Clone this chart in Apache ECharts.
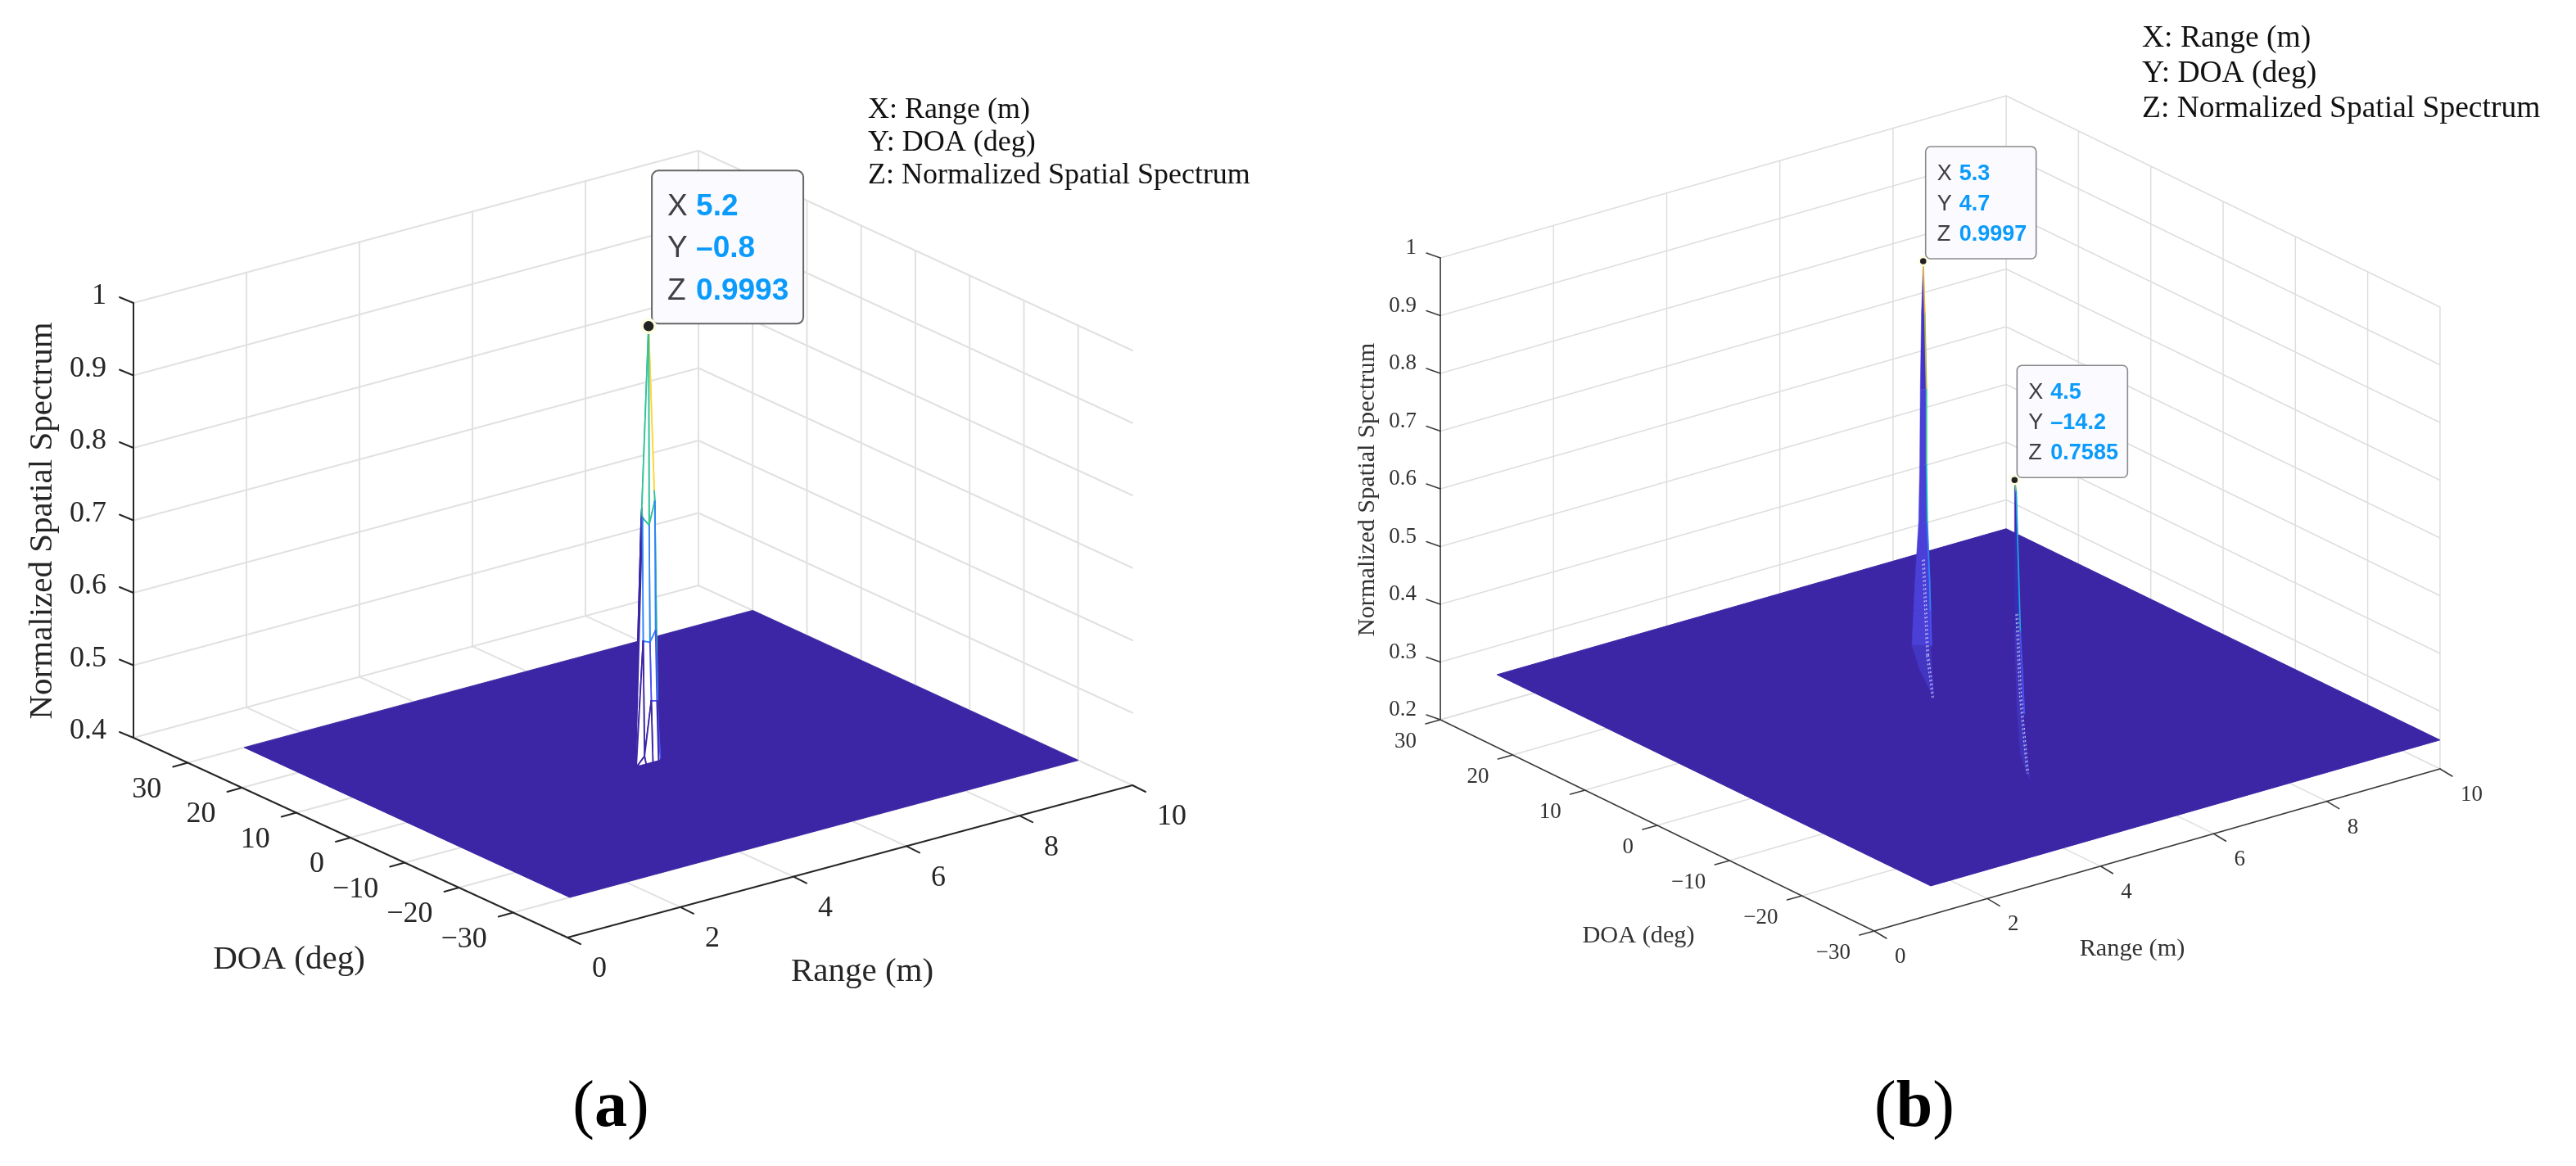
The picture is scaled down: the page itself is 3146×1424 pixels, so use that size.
<!DOCTYPE html>
<html><head><meta charset="utf-8">
<style>html,body{margin:0;padding:0;background:#fff}#c{width:3146px;height:1424px}</style>
<script src="https://cdn.jsdelivr.net/npm/echarts@6/dist/echarts.min.js"></script>
</head><body><div id="c"></div>
<script>
// ---------- DATA ----------
const rangeTicks = [0, 2, 4, 6, 8, 10];
const doaTicksA = [-30, -20, -10, 0, 10, 20, 30];
const doaTicksB = [-30, -20, -10, 0, 10, 20, 30];
const zTicksA = [0.4, 0.5, 0.6, 0.7, 0.8, 0.9, 1];
const zTicksB = [0.2, 0.3, 0.4, 0.5, 0.6, 0.7, 0.8, 0.9, 1];
const surfaceRange = [1, 10];
const surfaceDoa = [-30, 30];
const floorZA = 0.4;
const floorZB = 0.25;

// Panel (a): the coarse mesh around the peak
const meshARange = [4.96, 5.08, 5.2, 5.3, 5.36];
const meshADoa = [-1.6, -1.3, -1.05, -0.9, -0.8, -0.7, -0.55, -0.3, 0];
const meshAZ = [
  [0.4, 0.4, 0.4, 0.4, 0.4],
  [0.4, 0.41, 0.484, 0.482, 0.4],
  [0.4, 0.568, 0.564, 0.578, 0.4],
  [0.4, 0.738, 0.725, 0.756, 0.4],
  [0.4, 0.75, 0.9993, 0.77, 0.4],
  [0.4, 0.738, 0.72, 0.74, 0.4],
  [0.4, 0.56, 0.55, 0.56, 0.4],
  [0.4, 0.41, 0.48, 0.47, 0.4],
  [0.4, 0.4, 0.4, 0.4, 0.4]
];

// Panel (b): spike outlines
const spike1LeftZ = [0.9997, 0.91, 0.78, 0.65, 0.55, 0.45, 0.40, 0.34, 0.30, 0.26];
const spike1LeftR = [5.3, 5.27, 5.25, 5.24, 5.22, 5.155, 5.13, 5.10, 5.17, 5.28];
const spike1LeftD = [4.7, 4.7, 4.7, 4.7, 4.7, 4.7, 4.7, 4.7, 4.2, 3.4];
const spike1RightZ = [0.9997, 0.91, 0.78, 0.65, 0.55, 0.45, 0.40, 0.34, 0.29, 0.25];
const spike1RightD = [4.7, 4.47, 4.25, 4.25, 4.13, 3.8, 3.7, 3.57, 3.3, 3.1];
const spike1SpeckD = [4.55, 4.3, 3.97, 3.2];
const spike1SpeckZ = [0.484, 0.415, 0.322, 0.252];
const spike2LeftZ = [0.7585, 0.74, 0.5, 0.36, 0.29, 0.26];
const spike2LeftD = [-14.2, -14.2, -14.2, -14.55, -15.0, -15.9];
const spike2RightZ = [0.7585, 0.74, 0.5, 0.36, 0.29, 0.25];
const spike2RightD = [-14.2, -14.43, -15.0, -15.56, -16.1, -16.5];
const spike2SpeckD = [-14.4, -14.9, -15.9];
const spike2SpeckZ = [0.527, 0.389, 0.26];

const tipsA = [{ x: 5.2, y: -0.8, z: 0.9993, zText: '0.9993' }];
const tipsB = [{ x: 5.3, y: 4.7, z: 0.9997, zText: '0.9997' }, { x: 4.5, y: -14.2, z: 0.7585, zText: '0.7585' }];
const legendLines = ['X: Range (m)', 'Y: DOA (deg)', 'Z: Normalized Spatial Spectrum'];
const zTitle = 'Normalized Spatial Spectrum';
const doaTitle = 'DOA (deg)';
const rangeTitle = 'Range (m)';

// ---------- VIEW / STYLE ----------
const SERIF = '"Liberation Serif"', SANS = '"Liberation Sans"';
const viewA = {
  o: [428, 1023], perR: [69, -18.6], perD: [-6.625, -3.05], perZ: -885, zMin: 0.4, zMax: 1,
  rLim: [0, 10], dLim: [-40, 40], floorZ: floorZA, zTicks: zTicksA, doaTicks: doaTicksA,
  grid: { c: '#e1e1e1', w: 2 }, axis: { c: '#262626', w: 2 }, fs: 36, tc: '#262626',
  zTick: [-17, -7], dTick: [-18, 5], rTick: [16, 8],
  zLab: [-33, -8], dLab: [-32, 33], rLab: [30, 39],
  zT: [52, 636], dT: [353, 1172], rT: [1053, 1187], titleFs: 41,
  wallV: rangeTicks.slice(1, 5), wallD: doaTicksA, decimals: 1
};
const viewB = {
  o: [2024, 1008], perR: [69.1, -19.8], perD: [-8.83, -4.3], perZ: -705, zMin: 0.2, zMax: 1,
  rLim: [0, 10], dLim: [-30, 30], floorZ: floorZB, zTicks: zTicksB, doaTicks: doaTicksB,
  grid: { c: '#dedede', w: 1.5 }, axis: { c: '#3a3a3a', w: 1.6 }, fs: 27, tc: '#333333',
  zTick: [-17, -6], dTick: [-18, 5], rTick: [15, 9],
  zLab: [-29, -12], dLab: [-29, 27], rLab: [25, 32],
  zT: [1670, 598], dT: [2001, 1143], rT: [2604, 1159], titleFs: 30.3,
  wallV: rangeTicks.slice(1, 5), wallD: doaTicksB, decimals: 1
};
const FLOOR = '#3c26a6';
const parulaStops = ['#3e26a8', '#4752f4', '#2d87f7', '#1aa4dc', '#12b9bd', '#33c29a', '#6dc46e', '#b0bd4a', '#ecbb3a', '#fdd736', '#f9fb15'];
function parula(v) {
  const i = Math.max(0, Math.min(10, Math.floor(v * 10)));
  return parulaStops[i];
}
function scr(view, r, d, z) {
  return [view.o[0] + view.perR[0] * r + view.perD[0] * d,
          view.o[1] + view.perR[1] * r + view.perD[1] * d + view.perZ * (z - view.zMin)];
}
function P(api, view, r, d, z) { return api.coord(scr(view, r, d, z)); }
function ln(a, b, c, w, extra) {
  return { type: 'line', shape: { x1: a[0], y1: a[1], x2: b[0], y2: b[1] }, style: Object.assign({ stroke: c, lineWidth: w, lineCap: 'round' }, extra || {}) };
}
function txt(p, s, font, fill, align, rot) {
  return { type: 'text', x: p[0], y: p[1], rotation: rot || 0,
    style: { text: s, x: 0, y: 0, font: font, fill: fill, align: align || 'center', verticalAlign: 'middle' } };
}
function layer(items, draw) {
  return { type: 'custom', coordinateSystem: 'cartesian2d', silent: true, animation: false, clip: false,
    progressive: 0, data: items.map((_, i) => [i, 0]),
    renderItem: (p, api) => draw(items[p.dataIndex], api) };
}

function gridItems(v) {
  const out = [];
  const [r0, r1] = v.rLim, [d0, d1] = v.dLim;
  v.zTicks.forEach(z => {
    out.push([r0, d1, z, r1, d1, z]);
    out.push([r1, d1, z, r1, d0, z]);
  });
  v.wallV.forEach(r => out.push([r, d1, v.zMin, r, d1, v.zMax]));
  out.push([r1, d1, v.zMin, r1, d1, v.zMax]);
  v.wallD.forEach(d => { if (d < d1) out.push([r1, d, v.zMin, r1, d, v.zMax]); });
  v.wallV.forEach(r => out.push([r, d0, v.zMin, r, d1, v.zMin]));
  v.wallD.forEach(d => out.push([r0, d, v.zMin, r1, d, v.zMin]));
  return out;
}
function axisItems(v) {
  const out = [];
  const [r0, r1] = v.rLim, [d0, d1] = v.dLim;
  out.push({ s: [r0, d1, v.zMin], e: [r0, d1, v.zMax] });
  out.push({ s: [r0, d1, v.zMin], e: [r0, d0, v.zMin] });
  out.push({ s: [r0, d0, v.zMin], e: [r1, d0, v.zMin] });
  v.zTicks.forEach(z => out.push({ s: [r0, d1, z], off: v.zTick }));
  v.doaTicks.forEach(d => out.push({ s: [r0, d, v.zMin], off: v.dTick }));
  rangeTicks.forEach(r => out.push({ s: [r, d0, v.zMin], off: v.rTick }));
  return out;
}
function labelItems(v) {
  const out = [];
  const [r0] = v.rLim, [d0, d1] = v.dLim;
  v.zTicks.forEach(z => out.push({ at: [r0, d1, z], off: v.zLab, s: z === 1 ? '1' : z.toFixed(v.decimals), a: 'right' }));
  v.doaTicks.forEach(d => out.push({ at: [r0, d, v.zMin], off: v.dLab, s: String(d).replace('-', '\u2212'), a: 'right' }));
  rangeTicks.forEach(r => out.push({ at: [r, d0, v.zMin], off: v.rLab, s: String(r), a: 'left' }));
  return out;
}
function panelBase(v) {
  const font = v.fs + 'px ' + SERIF, tfont = v.titleFs + 'px ' + SERIF;
  return [
    layer(gridItems(v), (g, api) => ln(P(api, v, g[0], g[1], g[2]), P(api, v, g[3], g[4], g[5]), v.grid.c, v.grid.w)),
    layer(axisItems(v), (a, api) => {
      const s = P(api, v, a.s[0], a.s[1], a.s[2]);
      const e = a.e ? P(api, v, a.e[0], a.e[1], a.e[2]) : [s[0] + a.off[0], s[1] + a.off[1]];
      return ln(s, e, v.axis.c, v.axis.w);
    }),
    layer(labelItems(v), (l, api) => {
      const s = P(api, v, l.at[0], l.at[1], l.at[2]);
      return txt([s[0] + l.off[0], s[1] + l.off[1]], l.s, font, v.tc, l.a);
    }),
    layer([
      { p: v.zT, s: zTitle, rot: Math.PI / 2 }, { p: v.dT, s: doaTitle }, { p: v.rT, s: rangeTitle }
    ], (t, api) => txt(api.coord(t.p), t.s, tfont, v.tc, 'center', t.rot)),
    layer([0], (_, api) => ({
      type: 'polygon',
      shape: { points: [
        P(api, v, surfaceRange[0], surfaceDoa[0], v.floorZ), P(api, v, surfaceRange[1], surfaceDoa[0], v.floorZ),
        P(api, v, surfaceRange[1], surfaceDoa[1], v.floorZ), P(api, v, surfaceRange[0], surfaceDoa[1], v.floorZ)] },
      style: { fill: FLOOR, stroke: FLOOR, lineWidth: 1 }
    }))
  ];
}
// Panel (a) mesh: white faces, flat edge colours, painted back to front
function cellsA() {
  const out = [];
  for (let j = meshADoa.length - 2; j >= 0; j--)
    for (let i = meshARange.length - 2; i >= 0; i--) out.push([i, j]);
  return out;
}
function colA(z) { return z <= floorZA + 0.001 ? FLOOR : parula((z - floorZA) / (1 - floorZA)); }
function meshASeries() {
  const v = viewA;
  return layer(cellsA(), (c, api) => {
    const [i, j] = c;
    const n = (a, b) => P(api, v, meshARange[a], meshADoa[b], meshAZ[b][a]);
    const A = n(i, j), B = n(i + 1, j), C = n(i + 1, j + 1), D = n(i, j + 1);
    const flat = meshAZ[j][i] === floorZA && meshAZ[j][i + 1] === floorZA && meshAZ[j + 1][i] === floorZA && meshAZ[j + 1][i + 1] === floorZA;
    const kids = [{ type: 'polygon', shape: { points: [A, B, C, D] }, style: { fill: flat ? FLOOR : '#ffffff' } }];
    kids.push(ln(D, C, colA(meshAZ[j + 1][i]), 1.8));
    kids.push(ln(C, B, colA(meshAZ[j][i + 1]), 1.8));
    kids.push(ln(A, D, colA(meshAZ[j][i]), 1.8));
    kids.push(ln(A, B, colA(meshAZ[j][i]), 1.8));
    return { type: 'group', children: kids };
  });
}
// Panel (b) spikes
function colB(z) { return parula((z - floorZB) / (1 - floorZB)); }
function spikeSeries(left, right, speck, fills) {
  const v = viewB, items = [];
  for (let k = 0; k < left.length - 1; k++) items.push({ k });
  return [
    layer(items, (it, api) => {
      const k = it.k;
      const pts = [left[k], right[k], right[k + 1], left[k + 1]].map(n => P(api, v, n[0], n[1], n[2]));
      return { type: 'polygon', shape: { points: pts }, style: { fill: fills(left[k + 1][2]), stroke: fills(left[k + 1][2]), lineWidth: 0.5 } };
    }),
    layer(speck, (it, api) => ln(P(api, v, it[0][0], it[0][1], it[0][2]), P(api, v, it[1][0], it[1][1], it[1][2]), 'rgba(235,235,255,0.75)', 1.4, { lineDash: [2, 3], lineCap: 'butt' })),
    layer(items, (it, api) => {
      const k = it.k;
      const a = right[k], b = right[k + 1];
      const pa = P(api, v, a[0], a[1], a[2]), pb = P(api, v, b[0], b[1], b[2]);
      return ln(pa, pb, colB(b[2]), 1.8);
    })
  ];
}
const spike1L = spike1LeftZ.map((z, i) => [spike1LeftR[i], spike1LeftD[i], z]);
const spike1R = spike1RightZ.map((z, i) => [5.3, spike1RightD[i], z]);
const spike1S = [];
spike1SpeckD.forEach((d, i) => { if (i) {
  spike1S.push([[5.3, spike1SpeckD[i - 1], spike1SpeckZ[i - 1]], [5.3, d, spike1SpeckZ[i]]]);
  spike1S.push([[5.27, spike1SpeckD[i - 1], spike1SpeckZ[i - 1]], [5.27, d, spike1SpeckZ[i]]]);
} });
const spike2L = spike2LeftZ.map((z, i) => [4.5, spike2LeftD[i], z]);
const spike2R = spike2RightZ.map((z, i) => [4.5, spike2RightD[i], z]);
const spike2S = [];
spike2SpeckD.forEach((d, i) => { if (i) {
  spike2S.push([[4.5, spike2SpeckD[i - 1], spike2SpeckZ[i - 1]], [4.5, d, spike2SpeckZ[i]]]);
  spike2S.push([[4.53, spike2SpeckD[i - 1], spike2SpeckZ[i - 1]], [4.53, d, spike2SpeckZ[i]]]);
} });

// Data tips
function tipSeries(v, tips, cfg) {
  return layer(tips, (t, api) => {
    const p = P(api, v, t.x, t.y, t.z);
    const L = p[0] + cfg.dx, B = p[1] + cfg.dy, T = B - cfg.h;
    const kids = [
      { type: 'rect', shape: { x: L, y: T, width: cfg.w, height: cfg.h, r: cfg.r }, style: { fill: '#fafaff', stroke: cfg.bc, lineWidth: cfg.bw } },
      { type: 'circle', shape: { cx: p[0], cy: p[1], r: cfg.mr }, style: { fill: '#222222', stroke: '#fffde0', lineWidth: cfg.mb } }
    ];
    const rows = [['X', String(t.x)], ['Y', String(t.y).replace('-', '\u2013')], ['Z', t.zText]];
    rows.forEach((row, i) => {
      const y = T + cfg.rowY[i];
      kids.push(txt([L + cfg.kx, y], row[0], cfg.fs + 'px ' + SANS, '#404040', 'left'));
      kids.push(txt([L + cfg.vx, y], row[1], 'bold ' + cfg.fs + 'px ' + SANS, '#0a9bfb', 'left'));
    });
    return { type: 'group', children: kids };
  });
}

const series = [
  ...panelBase(viewA),
  meshASeries(),
  tipSeries(viewA, tipsA, { dx: 4, dy: -3, w: 185, h: 187, r: 8, bc: '#666666', bw: 2, mr: 8, mb: 3.5, fs: 37, kx: 19, vx: 54, rowY: [44, 95, 147] }),
  ...panelBase(viewB),
  ...spikeSeries(spike1L, spike1R, spike1S, z => z > 0.7 ? '#4433cc' : z > 0.33 ? '#4a3fd6' : '#4336c2'),
  ...spikeSeries(spike2L, spike2R, spike2S, z => z > 0.45 ? '#3a2ab8' : '#4033bc'),
  tipSeries(viewB, tipsB, { dx: 3, dy: -3, w: 135, h: 137, r: 6, bc: '#8a8a8a', bw: 1.6, mr: 5, mb: 2.5, fs: 27, kx: 14, vx: 41, rowY: [33, 70, 107] })
];

function legend(x, y, gap, size) {
  return legendLines.map((s, i) => ({ type: 'text', x: x, y: y + i * gap,
    style: { text: s, font: size + 'px ' + SERIF, fill: '#111111', align: 'left', verticalAlign: 'middle' } }));
}
function panelTag(letter, x, y) {
  return { type: 'text', x: x, y: y, style: {
    text: '{p|(}{b|' + letter + '}{p|)}', align: 'center', verticalAlign: 'middle',
    rich: { p: { font: '80px ' + SERIF, fill: '#000' }, b: { font: 'bold 80px ' + SERIF, fill: '#000' } } } };
}

const chart = echarts.init(document.getElementById('c'), null, { renderer: 'canvas' });
chart.setOption({
  animation: false,
  backgroundColor: '#ffffff',
  grid: { left: 0, top: 0, right: 0, bottom: 0, containLabel: false },
  xAxis: { type: 'value', min: 0, max: 3146, show: false },
  yAxis: { type: 'value', min: 0, max: 1424, inverse: true, show: false },
  graphic: { elements: [
    ...legend(1060, 135, 40, 36), ...legend(2616, 47, 43, 37.5),
    panelTag('a', 746, 1354), panelTag('b', 2338, 1354)
  ] },
  series: series
});
</script></body></html>
